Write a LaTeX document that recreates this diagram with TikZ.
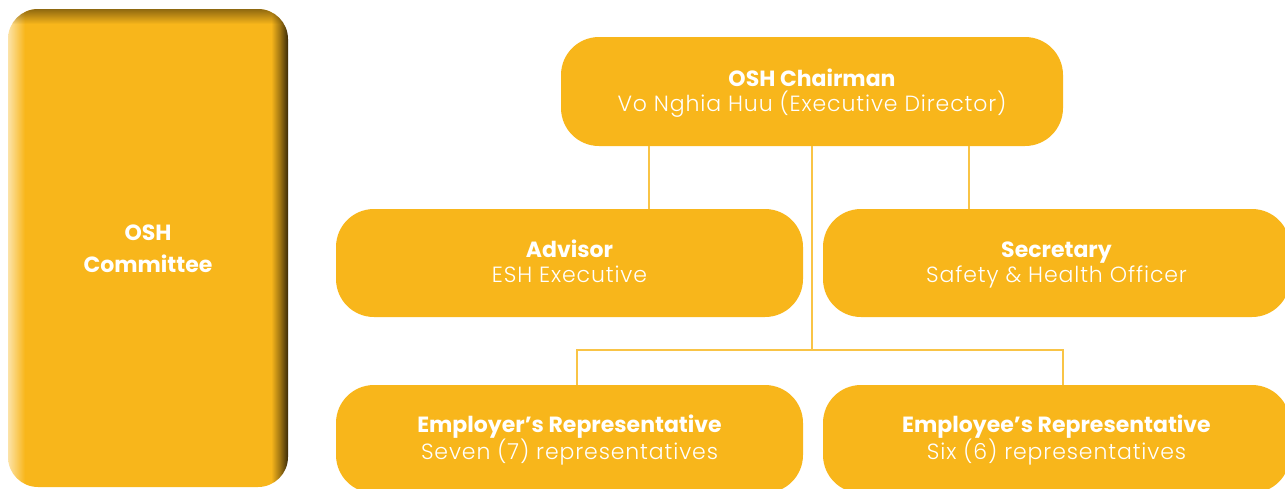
\documentclass[tikz,border=0pt]{standalone}
\usepackage{fontspec}
\setmainfont{Poppins}
\newfontfamily\lightfont{Poppins Light}[LetterSpace=4]
\usetikzlibrary{fadings}
\definecolor{boxfill}{HTML}{F8B61B}
\definecolor{linec}{HTML}{F9C446}
\definecolor{hilite}{HTML}{FCE3A8}
\definecolor{shadowc}{HTML}{3A2A08}
\pgfdeclarehorizontalshading{sidebox}{100bp}{color(0bp)=(hilite); color(25bp)=(hilite); color(28bp)=(boxfill); color(72bp)=(boxfill); color(73.5bp)=(boxfill!55!shadowc); color(75bp)=(shadowc); color(100bp)=(shadowc)}
\tikzfading[name=fadedown, top color=transparent!0, bottom color=transparent!100]
\newcommand{\topfix}{\rule{0pt}{21.5pt}}
\tikzset{
  orgbox/.style={rounded corners=38pt, fill=boxfill, text=white, align=center,
    inner sep=0pt, font=\fontsize{22}{25}\selectfont},
  conn/.style={draw=linec, line width=1.5pt},
}
\begin{document}
\begin{tikzpicture}[x=1pt,y=-1pt]
\useasboundingbox (0,0) rectangle (1285,488);
% left committee box
\node[shading=sidebox, rounded corners=30pt, minimum width=280pt, minimum height=478pt,
  inner sep=0pt, text=white, align=center, font=\fontsize{22}{32}\selectfont\bfseries]
  (comm) at (148,248) {\rule{0pt}{26.4pt}OSH\\\strut Committee};
\begin{scope}
  \clip[rounded corners=30pt] (8,9) rectangle (288,487);
  \fill[shadowc, opacity=0.55, path fading=fadedown] (8,9) rectangle (288,24);
\end{scope}
% org boxes
\node[orgbox, minimum width=502pt, minimum height=109pt] (chair) at (812,91.5)
  {\topfix{\bfseries OSH Chairman}\\\strut{\lightfont Vo Nghia Huu (Executive Director)}};
\node[orgbox, minimum width=467pt, minimum height=108pt] (adv) at (569.5,263)
  {\topfix{\bfseries Advisor}\\\strut{\lightfont ESH Executive}};
\node[orgbox, minimum width=467pt, minimum height=108pt] (sec) at (1056.5,263)
  {\topfix{\bfseries Secretary}\\\strut{\lightfont Safety \& Health Officer}};
\node[orgbox, minimum width=467pt, minimum height=108pt] (emr) at (569.5,439)
  {\topfix{\bfseries Employer’s Representative}\\\strut{\lightfont Seven (7) representatives}};
\node[orgbox, minimum width=467pt, minimum height=108pt] (eme) at (1056.5,439)
  {\topfix{\bfseries Employee’s Representative}\\\strut{\lightfont Six (6) representatives}};
% connectors
\coordinate (advtap) at (649,0);
\coordinate (sectap) at (969,0);
\coordinate (busL) at (577,350);
\coordinate (busR) at (1063,350);
\coordinate (busC) at (812,350);
\draw[conn] (chair.south -| advtap) -- (adv.north -| advtap);
\draw[conn] (chair.south -| sectap) -- (sec.north -| sectap);
\draw[conn] (chair.south) -- (busC);
\draw[conn] (busL |- emr.north) -- (busL) -- (busR) -- (busR |- eme.north);
\end{tikzpicture}
\end{document}
